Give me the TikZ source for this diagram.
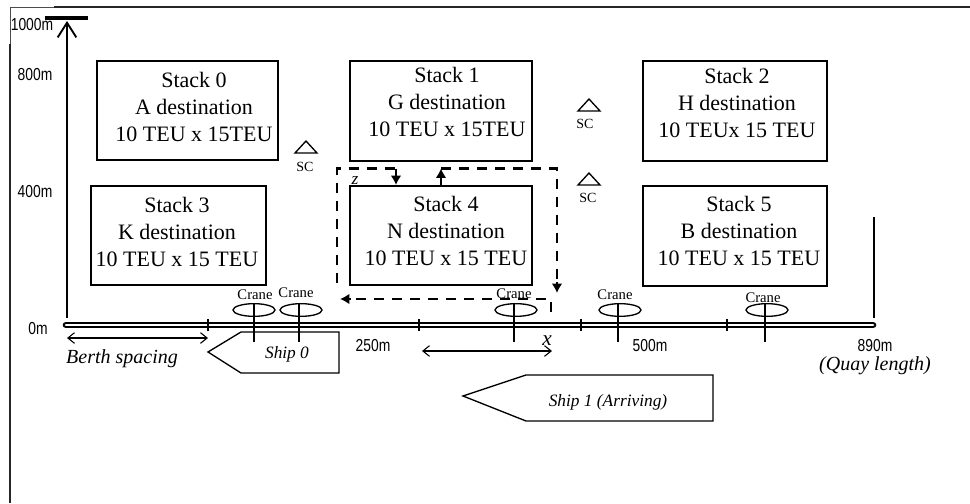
\documentclass[tikz,border=0pt]{standalone}
\usepackage{fontspec}
\setmainfont{Liberation Serif}
\newfontfamily\axisfont[FakeStretch=0.8]{Liberation Sans}
\usetikzlibrary{arrows.meta,shapes.geometric}
\tikzset{
  stackbox/.style={draw,line width=1pt,inner sep=0pt},
  stacktext/.style={align=center,inner sep=0pt,font=\fontsize{16.5}{20}\selectfont},
  axislabel/.style={font=\axisfont\fontsize{13}{14}\selectfont,inner sep=0pt},
  cranelabel/.style={font=\fontsize{11}{12}\selectfont,inner sep=0pt},
  sclabel/.style={font=\fontsize{10.5}{12}\selectfont,inner sep=0pt},
  italiclabel/.style={font=\itshape\fontsize{15}{16}\selectfont,inner sep=0pt},
  shiplabel/.style={font=\itshape\fontsize{13}{14}\selectfont,inner sep=0pt},
  route/.style={line width=1.9pt,dash pattern=on 7.5pt off 6pt},
  routetip/.style={line width=1.9pt,-{Latex[length=7pt,width=8pt]}},
  span/.style={line width=0.8pt,{Straight Barb[length=5pt,width=8pt]}-{Straight Barb[length=5pt,width=8pt]}},
  shipline/.style={line width=1pt},
}
\begin{document}
\begin{tikzpicture}[x=0.75pt,y=-0.75pt]
  \useasboundingbox (0,0) rectangle (970,503);
  % frame
  \draw[line width=1.2pt,black!85] (10,503) -- (10,7) -- (970,7);
  \fill[white] (9,6) rectangle (54,44);
  \draw[line width=0.6pt,black!70] (10,44) -- (10,7) -- (54,7);
  % stacks
  \node[stackbox,minimum width=181pt*0.75,minimum height=99pt*0.75] (stack0) at (187.5,110.5) {};
  \node[stackbox,minimum width=182pt*0.75,minimum height=100pt*0.75] (stack1) at (441,111) {};
  \node[stackbox,minimum width=184pt*0.75,minimum height=100pt*0.75] (stack2) at (735,111) {};
  \node[stackbox,minimum width=175pt*0.75,minimum height=99pt*0.75] (stack3) at (178.5,235.5) {};
  \node[stackbox,minimum width=182pt*0.75,minimum height=99pt*0.75] (stack4) at (441,235.5) {};
  \node[stackbox,minimum width=184pt*0.75,minimum height=100pt*0.75] (stack5) at (735,236) {};
  \node[stacktext] (text0) at (194,107) {Stack 0\\A destination\\10 TEU x 15TEU};
  \node[stacktext] (text1) at (447,102) {Stack 1\\G destination\\10 TEU x 15TEU};
  \node[stacktext] (text2) at (737,103) {Stack 2\\H destination\\10 TEUx 15 TEU};
  \node[stacktext] (text3) at (177,232) {Stack 3\\K destination\\10 TEU x 15 TEU};
  \node[stacktext] (text4) at (446,231) {Stack 4\\N destination\\10 TEU x 15 TEU};
  \node[stacktext] (text5) at (739,231) {Stack 5\\B destination\\10 TEU x 15 TEU};
  % axis and quay
  \coordinate (axisfoot) at (67,318);
  \coordinate (axistop) at (67,21);
  \coordinate (barl) at (45,18);
  \coordinate (barr) at (88,18);
  \coordinate (quayl) at (66,325);
  \coordinate (quayr) at (873,325);
  \coordinate (endfoot) at (874,318);
  \coordinate (endtop) at (874,217);
  \draw[line width=1.6pt,-{Straight Barb[length=11pt,width=14pt,line width=1.4pt]}] (axisfoot) -- (axistop);
  \draw[line width=2.4pt] (barl) -- (barr);
  \draw[line width=1.6pt] (endfoot) -- (endtop);
  \draw[line width=5pt,line cap=round] (quayl) -- (quayr);
  \draw[line width=2pt,white,line cap=round] (quayl) -- (quayr);
  \foreach \tickx in {208,419,581,727}
    \draw[line width=1.5pt] (\tickx,319) -- (\tickx,331);
  % ships
  \draw[shipline] (208,352) -- (241,332) -- (339,332) -- (339,373) -- (241,373) -- cycle;
  \draw[shipline] (463,396) -- (526,375) -- (713,375) -- (713,421) -- (526,421) -- cycle;
  \node[shiplabel] (ship0) at (287,354) {Ship 0};
  \node[shiplabel] (ship1) at (608,402) {Ship 1 (Arriving)};
  % cranes
  \foreach \cx/\lx/\ly/\cname in {254/255/295/a,301/296/293/b,516/514/294/c,620/615/295/d,767/763/298/e}{
    \node[draw,ellipse,line width=1pt,minimum width=31.5pt,minimum height=9.5pt,inner sep=0pt] (crane\cname) at (\cx,310) {};
    \node[cranelabel] (cranetext\cname) at (\lx,\ly) {Crane};
  }
  \foreach \lx/\cname in {254/a,299/b,514/c,618/d,765/e}
    \draw[line width=0.9pt] (\lx,304) -- (\lx,342);
  % route round stack 4
  \coordinate (ra) at (337,283);
  \coordinate (rb) at (337,168.5);
  \coordinate (rc) at (396,168.5);
  \coordinate (rd) at (396,185);
  \coordinate (re) at (441,185);
  \coordinate (rf) at (441,168.5);
  \coordinate (rg) at (557,168.5);
  \coordinate (rh) at (557,293);
  \coordinate (ri) at (551,312);
  \coordinate (rj) at (551,299);
  \coordinate (rk) at (340,299);
  \draw[route] (ra) -- (rb) -- (rc);
  \draw[routetip] (rc) -- (rd);
  \draw[routetip] (re) -- (rf);
  \draw[route] (rf) -- (rg) -- ([yshift=9pt]rh);
  \draw[routetip] ([yshift=8pt]rh) -- (rh);
  \draw[route] (ri) -- (rj) -- ([xshift=7pt]rk);
  \draw[routetip] ([xshift=8pt]rk) -- (rk);
  \node[font=\itshape\fontsize{13}{14}\selectfont,inner sep=0pt] (zlabel) at (355,181) {z};
  % straddle carriers
  \foreach \tx/\ty/\sx/\sy/\sname in {306/141/305/167/a,589/99/585/124/b,589/173/588/198/c}{
    \draw[line width=1pt,line join=miter] (\tx,\ty) -- ++(-11,12) -- ++(22,0) -- cycle;
    \node[sclabel] (sc\sname) at (\sx,\sy) {SC};
  }
  % spans
  \coordinate (berthl) at (67,338);
  \coordinate (berthr) at (208,338);
  \coordinate (xl) at (422,351);
  \coordinate (xr) at (552,351);
  \draw[span] (berthl) -- (berthr);
  \draw[span] (xl) -- (xr);
  \node[italiclabel] (berth) at (122,359) {Berth spacing};
  \node[font=\itshape\fontsize{16}{17}\selectfont,inner sep=0pt] (xlabel) at (547,341) {x};
  \node[italiclabel] (quaylen) at (875,366) {(Quay length)};
  % axis labels
  \node[axislabel] (m1000) at (32,25) {1000m};
  \node[axislabel] (m800) at (35,75) {800m};
  \node[axislabel] (m400) at (35,192) {400m};
  \node[axislabel] (m0) at (38,329) {0m};
  \node[axislabel] (m250) at (373,346) {250m};
  \node[axislabel] (m500) at (650,346) {500m};
  \node[axislabel] (m890) at (875,346) {890m};
\end{tikzpicture}
\end{document}
